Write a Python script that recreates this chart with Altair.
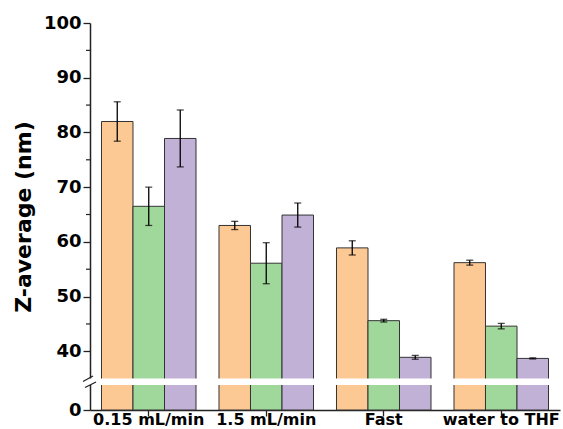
import altair as alt
import pandas as pd

categories = ["0.15 mL/min", "1.5 mL/min", "Fast", "water to THF"]
series = ["s1", "s2", "s3"]
colors = ["#FCC995", "#A0D89C", "#C2B1D6"]
values_s1 = [82.0, 63.0, 58.9, 56.2]
errors_s1 = [3.6, 0.75, 1.3, 0.45]
values_s2 = [66.5, 56.1, 45.6, 44.6]
errors_s2 = [3.5, 3.75, 0.25, 0.5]
values_s3 = [78.9, 64.9, 38.9, 38.7]
errors_s3 = [5.2, 2.2, 0.35, 0.1]
major_ticks = [0, 40, 50, 60, 70, 80, 90, 100]
minor_ticks = [45, 55, 65, 75, 85, 95]

rows = []
for s, vals, errs in [("s1", values_s1, errors_s1), ("s2", values_s2, errors_s2), ("s3", values_s3, errors_s3)]:
    for c, v, e in zip(categories, vals, errs):
        rows.append({"cat": c, "series": s, "value": v, "lo": v - e, "hi": v + e})
df = pd.DataFrame(rows)

W, H = 470, 387
FONT = "DejaVu Sans"

yscale = alt.Scale(domain=[0, 34.5, 100], range=[H, 358.4, 0], nice=False, zero=False)
xscale = alt.Scale(domain=categories, paddingInner=0, paddingOuter=0)
offscale = alt.Scale(domain=series, paddingInner=0, paddingOuter=0.365)

base = alt.Chart(df).encode(
    x=alt.X("cat:N", scale=xscale, sort=categories,
            axis=alt.Axis(title=None, labelAngle=0, labelFont=FONT, labelFontWeight="bold",
                          labelFontSize=16, labelColor="black", tickSize=6, tickColor="#222",
                          domainColor="#222", domainWidth=1.5, tickWidth=1.3, labelPadding=8,
                          labelBaseline="alphabetic", grid=False)),
    xOffset=alt.XOffset("series:N", scale=offscale, sort=series),
)

bars = base.mark_bar(stroke="#333", strokeWidth=1).encode(
    y=alt.Y("value:Q", scale=yscale,
            axis=alt.Axis(title="Z-average (nm)", values=major_ticks, labelFont=FONT,
                          labelFontWeight="bold", labelFontSize=18, labelColor="black",
                          tickSize=7, tickWidth=1.3, tickColor="#222", domainColor="#222",
                          domainWidth=1.5, labelPadding=2, titleFont=FONT,
                          titleFontWeight="bold", titleFontSize=22, titleColor="black",
                          titlePadding=8, grid=False)),
    y2=alt.Y2(datum=0),
    color=alt.Color("series:N", scale=alt.Scale(domain=series, range=colors), legend=None),
)

err = base.mark_rule(color="black", strokeWidth=1.3).encode(
    y=alt.Y("lo:Q", scale=yscale), y2="hi:Q")
cap_lo = base.mark_tick(color="black", thickness=1.3, size=7, orient="horizontal").encode(
    y=alt.Y("lo:Q", scale=yscale))
cap_hi = base.mark_tick(color="black", thickness=1.3, size=7, orient="horizontal").encode(
    y=alt.Y("hi:Q", scale=yscale))

minor = alt.Chart(pd.DataFrame({"m": minor_ticks})).mark_rule(color="#222", strokeWidth=1.2).encode(
    y=alt.Y("m:Q", scale=yscale), x=alt.value(-4), x2=alt.value(0))

band = alt.Chart(pd.DataFrame({"a": [0]})).mark_rect(color="white").encode(
    x=alt.value(-1), x2=alt.value(W), y=alt.value(355.5), y2=alt.value(362))

slash_df = pd.DataFrame({"x1": [-7, -5], "x2": [3, 6], "y1": [358.5, 364.5], "y2": [353, 359]})
slashes = alt.Chart(slash_df).mark_rule(color="#222", strokeWidth=1.3).encode(
    x=alt.X("x1:Q", scale=None), x2="x2:Q", y=alt.Y("y1:Q", scale=None), y2="y2:Q")

chart = alt.layer(bars, err, cap_lo, cap_hi, minor, band, slashes).properties(
    width=W, height=H,
    autosize=alt.AutoSizeParams(type="none"),
    padding={"left": 90, "top": 23, "right": 3, "bottom": 19},
).configure_view(stroke=None)

chart.save("out.html", embed_options={"renderer": "svg", "actions": False})
